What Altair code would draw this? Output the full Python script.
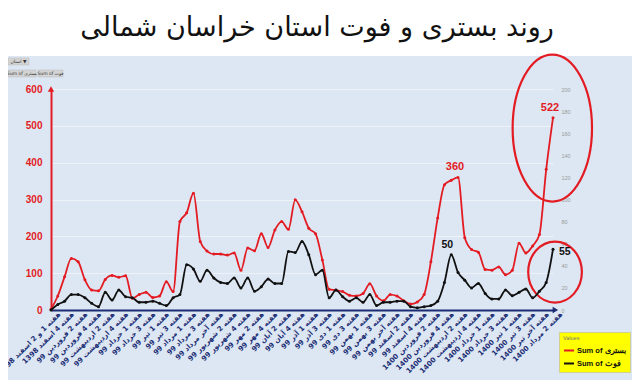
import json
import altair as alt
import pandas as pd

# ---------------- data ----------------
week_labels = [
    "هفته 1 و 2 اسفند 1398", "هفته 4 اسفند 1398", "هفته 2 فروردین 99", "هفته 4 فروردین 99",
    "هفته 2 اردیبهشت 99", "هفته 4 اردیبهشت 99", "هفته 1 خرداد 99", "هفته 3 خرداد 99",
    "هفته 1 تیر 99", "هفته 3 تیر 99", "هفته 1 مرداد 99", "هفته 3 مرداد 99",
    "هفته آخر مرداد 99", "هفته 2 شهریور 99", "هفته 4 شهریور 99", "هفته 2 مهر 99",
    "هفته 4 مهر 99", "هفته 2 آبان 99", "هفته 4 آبان 99", "هفته 1 آذر 99",
    "هفته 3 آذر 99", "هفته 1 دی 99", "هفته 3 دی 99", "هفته 1 بهمن 99",
    "هفته 3 بهمن 99", "هفته آخر بهمن 99", "هفته 2 اسفند 99", "هفته 4 اسفند 99",
    "هفته 2 فروردین 1400", "هفته 4 فروردین 1400", "هفته 2 اردیبهشت 1400", "هفته 4 اردیبهشت 1400",
    "هفته 1 خرداد 1400", "هفته 3 خرداد 1400", "هفته 1 تیر 1400", "هفته 3 تیر 1400",
    "هفته آخر تیر 1400", "هفته 2 مرداد 1400",
]

hospitalized = [
    2, 38, 90, 140, 131, 82, 54, 52, 83, 94,
    89, 93, 32, 42, 48, 34, 38, 77, 50, 240,
    264, 317, 186, 160, 152, 152, 149, 155, 108, 168,
    161, 207, 170, 217, 240, 219, 299, 267, 222, 207,
    136, 56, 54, 50, 40, 38, 45, 71, 38, 25,
    42, 38, 25, 16, 22, 42, 131, 250, 340, 352,
    360, 196, 164, 157, 110, 108, 117, 96, 108, 181,
    155, 174, 205, 382, 522,
]

deaths = [
    0, 5, 8, 14, 14, 11, 6, 3, 16, 9,
    18, 12, 11, 7, 7, 8, 6, 4, 11, 14,
    41, 37, 26, 36, 29, 25, 24, 29, 20, 29,
    17, 21, 28, 24, 24, 53, 52, 62, 50, 32,
    36, 11, 18, 12, 8, 11, 7, 14, 4, 7,
    7, 8, 8, 3, 2, 3, 4, 8, 25, 50,
    34, 27, 20, 24, 15, 10, 10, 18, 13, 16,
    19, 11, 17, 25, 55,
]

series_names = ["Sum of بستری", "Sum of فوت"]
series_colors = ["#e31b23", "#111111"]

title_text = "روند بستری و فوت استان خراسان شمالی"
filter_button = "استان ▼"

# ---------------- frames ----------------
n = len(hospitalized)
df = pd.DataFrame({
    "i": list(range(n)),
    "h": hospitalized,
    "d": deaths,
    "s1": series_names[0],
    "s2": series_names[1],
})

red_labels = pd.DataFrame({"i": [60, n - 1], "h": [hospitalized[60], hospitalized[n - 1]]})
red_labels["t"] = red_labels["h"].astype(str)
blk_lab1 = pd.DataFrame({"i": [59], "d": [deaths[59]]})
blk_lab1["t"] = blk_lab1["d"].astype(str)
blk_lab2 = pd.DataFrame({"i": [n - 1], "d": [deaths[n - 1]]})
blk_lab2["t"] = blk_lab2["d"].astype(str)

W, H = 502, 221
PAD = {"left": 43, "top": 81, "right": 79, "bottom": 70}

label_expr = "[" + ",".join(json.dumps(s, ensure_ascii=False) for s in week_labels) + "][round(datum.value/2)]"

NAVY = "#1b2d74"
RED = "#e31b23"
PFONT = "DejaVu Sans"

x_enc = alt.X(
    "i:Q",
    scale=alt.Scale(domain=[0, n - 1], nice=False, zero=False),
    axis=alt.Axis(
        values=list(range(0, n, 2)), labelExpr=label_expr, labelAngle=-45,
        labelAlign="right", labelBaseline="middle", labelFontSize=7,
        labelFontWeight="bold", labelColor=NAVY, labelFont=PFONT,
        labelPadding=3, labelOffset=8, labelOverlap=False, labelBound=False, labelFlush=False,
        domainColor=NAVY, domainWidth=2, ticks=False, grid=False, title=None,
    ),
)

color_scale = alt.Scale(domain=series_names, range=series_colors)
legend = alt.Legend(
    title="Values", orient="none", legendX=508, legendY=243,
    fillColor="#ffff00", strokeColor="#d0d090", padding=4,
    titleFontSize=5.5, titleColor="#777777", titleFontWeight="normal", titlePadding=3,
    labelFontSize=7.5, labelFontWeight="bold", labelFont="Liberation Sans", labelColor="#111111",
    symbolType="stroke", symbolStrokeWidth=2, symbolSize=100, rowPadding=3, labelOffset=2,
)

y_left = alt.Y(
    "h:Q", scale=alt.Scale(domain=[0, 600], nice=False),
    axis=alt.Axis(values=list(range(0, 601, 100)), labelColor=RED, labelFontWeight="bold",
                  labelFontSize=10, labelFont="Liberation Sans", labelPadding=9, labelOverlap=False,
                  domainColor=RED, domainWidth=2, ticks=False,
                  gridColor="#eef3fa", gridWidth=1, title=None),
)

y_right = alt.Y(
    "d:Q", scale=alt.Scale(domain=[0, 200], nice=False),
    axis=alt.Axis(orient="right", values=list(range(0, 201, 20)), labelColor="#9a9a9a",
                  labelFontSize=5.5, labelPadding=8, labelOverlap=False,
                  domain=False, ticks=False, grid=False, title=None),
)

red_line = alt.Chart(df).mark_line(
    interpolate="monotone", strokeWidth=1.8,
    point=alt.OverlayMarkDef(filled=True, size=9),
).encode(
    x=x_enc, y=y_left,
    color=alt.Color("s1:N", scale=color_scale, legend=legend),
)

red_text = alt.Chart(red_labels).mark_text(
    color=RED, fontWeight="bold", fontSize=11, dy=-10, dx=-3, font="Liberation Sans"
).encode(x=x_enc, y=y_left, text="t:N")

ell_path_big = "M -0.54 0 A 0.54 1 0 1 1 0.54 0 A 0.54 1 0 1 1 -0.54 0 Z"
ell_path_small = "M -0.88 0 A 0.88 1 0 1 1 0.88 0 A 0.88 1 0 1 1 -0.88 0 Z"

ell_big = alt.Chart(pd.DataFrame({"i": [73.9], "h": [494]})).mark_point(
    shape=ell_path_big, size=(2 * 73.5) ** 2, filled=False, stroke=RED, strokeWidth=2.2, opacity=1
).encode(x=x_enc, y=y_left)

ell_small = alt.Chart(pd.DataFrame({"i": [74.3], "h": [103]})).mark_point(
    shape=ell_path_small, size=(2 * 30.5) ** 2, filled=False, stroke=RED, strokeWidth=2.2, opacity=1
).encode(x=x_enc, y=y_left)

arrow_up = alt.Chart(pd.DataFrame({"i": [0], "h": [600]})).mark_point(
    shape="triangle-up", size=40, filled=True, color=RED, opacity=1
).encode(x=x_enc, y=y_left)

arrow_right = alt.Chart(pd.DataFrame({"i": [n - 1 + 0.35], "d": [0]})).mark_point(
    shape="triangle-right", size=40, filled=True, color=NAVY, opacity=1
).encode(x=x_enc, y=y_right)

# decoration: title band, title, pivot field buttons
one = pd.DataFrame({"a": [0]})
title_bg = alt.Chart(one).mark_rect(color="#ffffff").encode(
    x=alt.value(-43), x2=alt.value(W + 79), y=alt.value(-81), y2=alt.value(-33)
)
title = alt.Chart(pd.DataFrame({"t": [title_text]})).mark_text(
    fontSize=27, font=PFONT, color="#111111", align="center", baseline="middle"
).encode(x=alt.value(266), y=alt.value(-61), text="t:N")

btn_rects = alt.layer(
    alt.Chart(one).mark_rect(color="#d4d4d4", stroke="#b8b8b8", strokeWidth=0.5).encode(
        x=alt.value(-43), x2=alt.value(-22), y=alt.value(-31), y2=alt.value(-24)),
    alt.Chart(one).mark_rect(color="#d4d4d4", stroke="#b8b8b8", strokeWidth=0.5).encode(
        x=alt.value(-43), x2=alt.value(-15), y=alt.value(-19), y2=alt.value(-12)),
    alt.Chart(one).mark_rect(color="#d4d4d4", stroke="#b8b8b8", strokeWidth=0.5).encode(
        x=alt.value(-13), x2=alt.value(12), y=alt.value(-19), y2=alt.value(-12)),
)
btn_texts = alt.layer(
    alt.Chart(pd.DataFrame({"t": [filter_button]})).mark_text(
        fontSize=4.5, font=PFONT, color="#333333", align="center", baseline="middle"
    ).encode(x=alt.value(-32.5), y=alt.value(-27.5), text="t:N"),
    alt.Chart(pd.DataFrame({"t": [series_names[0]]})).mark_text(
        fontSize=4.5, font=PFONT, color="#333333", align="center", baseline="middle"
    ).encode(x=alt.value(-29), y=alt.value(-15.5), text="t:N"),
    alt.Chart(pd.DataFrame({"t": [series_names[1]]})).mark_text(
        fontSize=4.5, font=PFONT, color="#333333", align="center", baseline="middle"
    ).encode(x=alt.value(-0.5), y=alt.value(-15.5), text="t:N"),
)

layer_left = alt.layer(title_bg, title, btn_rects, btn_texts, red_line, red_text,
                       ell_big, ell_small, arrow_up)

black_line = alt.Chart(df).mark_line(
    interpolate="monotone", strokeWidth=1.8,
    point=alt.OverlayMarkDef(filled=True, size=9),
).encode(
    x=x_enc, y=y_right,
    color=alt.Color("s2:N", scale=color_scale, legend=legend),
)
blk_text1 = alt.Chart(blk_lab1).mark_text(
    color="#111111", fontWeight="bold", fontSize=10.5, dy=-10, dx=-4, font="Liberation Sans"
).encode(x=x_enc, y=y_right, text="t:N")
blk_text2 = alt.Chart(blk_lab2).mark_text(
    color="#111111", fontWeight="bold", fontSize=10.5, dx=6, dy=3, align="left", font="Liberation Sans"
).encode(x=x_enc, y=y_right, text="t:N")

layer_right = alt.layer(black_line, blk_text1, blk_text2, arrow_right)

chart = alt.layer(layer_left, layer_right).resolve_scale(y="independent").properties(
    width=W, height=H, padding=PAD, autosize=alt.AutoSizeParams(type="none"),
    background="#dde7f3",
).configure_view(stroke=None)

chart.save("out.html", embed_options={"renderer": "svg", "actions": False})
